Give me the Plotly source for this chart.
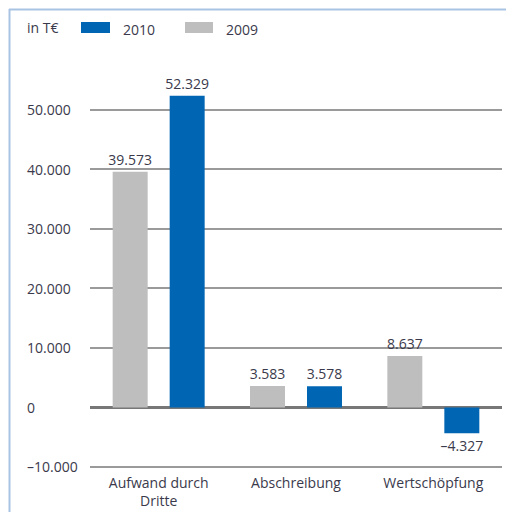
import plotly.graph_objects as go

categories = ["Aufwand durch<br>Dritte", "Abschreibung", "Wertschöpfung"]
values_2009 = [39573, 3583, 8637]
values_2010 = [52329, 3578, -4327]
tick_values = [-10000, 0, 10000, 20000, 30000, 40000, 50000]
tick_labels = ["–10.000", "0", "10.000", "20.000", "30.000", "40.000", "50.000"]
unit_label = "in T€"
series_names = ["2010", "2009"]

FONT = "Open Sans"
TXT = "#3a3a4c"
BLUE = "#0066b3"
GRAY = "#bdbebd"

# page body has an 8px margin; reference pixel coords are shifted by OFF
OFF = 8
W, H = 514 - OFF, 512 - OFF
L, R, T, B = 90 - OFF, 12, 74 - OFF, 44
pw, ph = W - L - R, H - T - B


def px(x):
    return (x - OFF - L) / pw


def py(y):
    return (H - B - (y - OFF)) / ph


def fmt(v):
    s = f"{abs(v):,}".replace(",", ".")
    return ("–" + s) if v < 0 else s


fig = go.Figure()
fig.add_trace(go.Bar(x=categories, y=values_2009, name="2009", marker_color=GRAY,
                     marker_line_width=0, text=[fmt(v) for v in values_2009],
                     textposition="outside", constraintext="none",
                     textfont=dict(size=14, color=TXT, family=FONT), cliponaxis=False))
fig.add_trace(go.Bar(x=categories, y=values_2010, name="2010", marker_color=BLUE,
                     marker_line_width=0, text=[fmt(v) for v in values_2010],
                     textposition="outside", constraintext="none",
                     textfont=dict(size=14, color=TXT, family=FONT), cliponaxis=False))

annotations = []
for v, t in zip(tick_values, tick_labels):
    annotations.append(dict(x=px(25), xref="paper", y=v, yref="y", text=t, showarrow=False,
                            xanchor="left", yanchor="middle",
                            font=dict(size=14, color=TXT, family=FONT)))
annotations.append(dict(x=px(25), xref="paper", y=py(28), yref="paper", text=unit_label,
                        showarrow=False, xanchor="left", yanchor="middle",
                        font=dict(size=14, color=TXT, family=FONT)))
annotations.append(dict(x=px(121), xref="paper", y=py(29), yref="paper", text=series_names[0],
                        showarrow=False, xanchor="left", yanchor="middle",
                        font=dict(size=14, color=TXT, family=FONT)))
annotations.append(dict(x=px(224), xref="paper", y=py(29), yref="paper", text=series_names[1],
                        showarrow=False, xanchor="left", yanchor="middle",
                        font=dict(size=14, color=TXT, family=FONT)))

shapes = [
    dict(type="rect", xref="paper", yref="paper", x0=px(81), x1=px(110), y0=py(22), y1=py(33),
         fillcolor=BLUE, line_width=0),
    dict(type="rect", xref="paper", yref="paper", x0=px(185), x1=px(213), y0=py(22), y1=py(33),
         fillcolor=GRAY, line_width=0),
    dict(type="line", xref="paper", yref="paper", x0=px(9.5), x1=px(9.5), y0=py(9), y1=py(520),
         line=dict(color="#a9c3e4", width=2)),
    dict(type="line", xref="paper", yref="paper", x0=px(9), x1=px(520), y0=py(9.5), y1=py(9.5),
         line=dict(color="#a9c3e4", width=2)),
]

fig.update_layout(
    width=W, height=H,
    margin=dict(l=L, r=R, t=T, b=B),
    paper_bgcolor="white", plot_bgcolor="white",
    barmode="group", bargap=0.17, bargroupgap=0.386,
    showlegend=False,
    font=dict(family=FONT, size=14, color=TXT),
    annotations=annotations,
    shapes=shapes,
    xaxis=dict(showgrid=False, showline=False, ticks="", automargin=False,
               ticklabelstandoff=5,
               tickfont=dict(size=14, color=TXT, family=FONT)),
    yaxis=dict(range=[-10170, 56000], tickvals=tick_values, showticklabels=False, automargin=False,
               showgrid=True, gridcolor="#9a9a9a", gridwidth=2,
               zeroline=True, zerolinecolor="#777777", zerolinewidth=3, showline=False),
)

fig.write_html("out.html")
